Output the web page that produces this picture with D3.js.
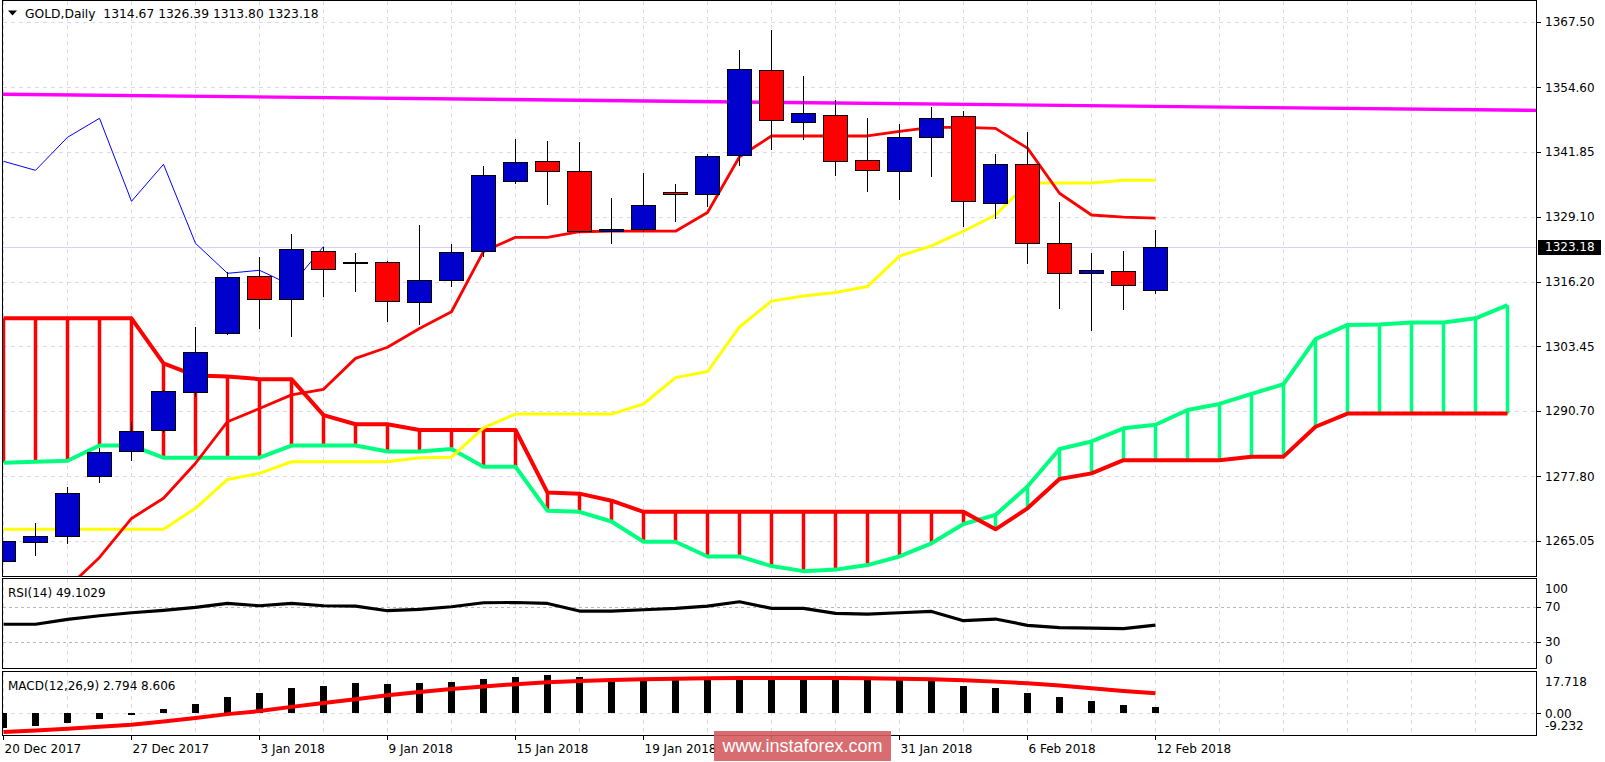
<!DOCTYPE html>
<html><head><meta charset="utf-8">
<script src="https://cdn.jsdelivr.net/npm/d3@7"></script>
<style>
html,body{margin:0;padding:0;background:#fff;}
svg{display:block;font-family:"DejaVu Sans",sans-serif;}
</style></head><body>
<svg id="chart" width="1605" height="762"></svg>
<script>
// ---------------- DATA ----------------
const dates = ["20 Dec 2017","21 Dec 2017","22 Dec 2017","26 Dec 2017","27 Dec 2017","28 Dec 2017","29 Dec 2017",
  "2 Jan 2018","3 Jan 2018","4 Jan 2018","5 Jan 2018","8 Jan 2018","9 Jan 2018","10 Jan 2018","11 Jan 2018","12 Jan 2018",
  "15 Jan 2018","16 Jan 2018","17 Jan 2018","18 Jan 2018","19 Jan 2018","22 Jan 2018","23 Jan 2018","24 Jan 2018","25 Jan 2018",
  "26 Jan 2018","29 Jan 2018","30 Jan 2018","31 Jan 2018","1 Feb 2018","2 Feb 2018","5 Feb 2018","6 Feb 2018","7 Feb 2018",
  "8 Feb 2018","9 Feb 2018","12 Feb 2018"];
const open  = [1261.04,1264.79,1265.98,1277.82,1282.76,1286.90,1294.40,1306.05,1317.30,1312.76,1322.35,1320.12,1320.06,1312.17,1316.51,1322.24,
  1335.97,1340.00,1338.03,1326.18,1326.50,1333.88,1333.49,1341.11,1357.96,1347.70,1349.08,1340.20,1338.03,1344.74,1348.88,1331.71,1339.41,
  1323.81,1317.89,1318.29,1314.67];
const high  = [1265.10,1268.60,1275.75,1283.35,1288.54,1294.86,1307.29,1318.21,1321.05,1325.59,1323.00,1321.84,1320.30,1327.43,1323.68,1339.07,
  1344.40,1344.03,1343.81,1332.75,1337.69,1335.52,1341.38,1361.97,1365.92,1356.84,1352.04,1348.55,1347.30,1350.66,1350.00,1341.44,1345.78,
  1331.97,1321.90,1322.29,1326.39];
const low   = [1261.00,1262.15,1264.40,1276.56,1280.90,1286.37,1293.40,1305.72,1306.96,1305.38,1313.27,1314.26,1308.34,1307.75,1315.25,1321.17,
  1335.58,1331.43,1325.79,1323.74,1325.99,1328.08,1331.04,1339.13,1342.23,1344.26,1337.16,1334.00,1332.42,1336.96,1327.09,1328.67,1319.79,
  1310.90,1306.56,1310.71,1313.80];
const close = [1264.99,1265.98,1274.47,1282.56,1286.70,1294.60,1302.30,1317.10,1312.76,1322.63,1318.88,1320.12,1312.36,1316.51,1322.04,1337.24,
  1339.80,1337.95,1326.18,1326.58,1331.32,1333.49,1340.99,1358.16,1348.09,1349.48,1340.00,1338.22,1344.74,1348.49,1332.11,1339.41,1323.81,
  1317.89,1318.49,1315.52,1323.18];

const tenkan = [1250.0,1252.0,1255.8,1261.8,1269.5,1273.5,1280.4,1288.6,1291.2,1293.9,1295.0,1301.1,1303.3,1307.0,1310.3,1322.2,
  1325.0,1325.0,1326.1,1326.2,1326.2,1326.2,1329.9,1340.9,1345.0,1345.0,1345.0,1345.0,1345.9,1346.7,1346.7,1346.5,1342.6,
  1333.7,1329.4,1329.0,1328.8];
const kijun = [1267.36,1267.36,1267.36,1267.36,1267.36,1267.36,1271.5,1277.2,1278.4,1280.7,1280.7,1280.7,1280.7,1281.5,1281.6,1287.4,
  1290.1,1290.1,1290.1,1290.1,1292.1,1297.3,1298.5,1307.3,1312.4,1313.4,1314.1,1315.3,1321.3,1323.3,1326.2,1329.4,1335.7,
  1335.7,1335.7,1336.25,1336.25];
const senkouA = [1280.5,1280.7,1280.9,1283.9,1283.9,1281.5,1281.5,1281.5,1281.5,1283.9,1283.9,1283.9,1282.7,1282.7,1283.2,1279.7,
  1279.7,1271.0,1270.8,1268.9,1264.9,1264.9,1262.0,1262.0,1260.1,1259.1,1259.4,1260.3,1262.0,1264.6,1268.4,1270.2,1275.8,
  1283.2,1284.7,1287.3,1288.0,1290.9,1292.1,1294.1,1296.0,1304.9,1307.7,1307.8,1308.2,1308.2,1309.0,1311.6];
const senkouB = [1309.0,1309.0,1309.0,1309.0,1309.0,1300.1,1297.7,1297.5,1297.0,1297.0,1289.9,1288.1,1288.1,1286.96,1286.96,1286.96,
  1286.96,1274.6,1274.4,1273.0,1270.8,1270.8,1270.8,1270.8,1270.8,1270.8,1270.8,1270.8,1270.8,1270.8,1270.8,1267.35,1271.5,
  1277.3,1278.4,1281.0,1281.0,1281.0,1281.0,1281.7,1281.7,1287.6,1290.2,1290.2,1290.2,1290.2,1290.2,1290.2];
const chikou = [1340.00,1338.22,1344.74,1348.49,1332.11,1339.41,1323.81,1317.89,1318.49,1315.52,1323.18];
const trendLine = [{bar:-0.03, price:1353.25},{bar:47.92, price:1350.05}];

const rsi = [50.0,50.0,55.5,59.6,63.0,65.7,69.0,73.5,70.9,73.5,70.9,70.5,65.3,66.8,69.8,74.3,74.6,73.5,64.9,64.9,66.4,67.9,70.5,75.4,
  67.9,67.9,62.3,61.5,63.0,64.5,54.0,55.9,48.8,46.1,45.7,45.0,49.1029];
const macdMain = [-6.2,-5.3,-4.2,-2.4,-0.8,1.8,3.9,7.1,8.8,11.0,11.7,13.0,12.5,13.0,13.4,14.7,15.5,16.3,15.5,14.7,14.7,14.6,14.6,14.6,
  14.6,14.6,14.6,14.6,14.3,14.1,11.7,10.8,8.7,7.0,5.3,3.6,2.794];
const macdSignal = [-7.9,-7.3,-6.6,-5.7,-4.8,-3.5,-2.0,-0.3,1.0,2.8,4.5,6.1,7.8,9.2,10.4,11.5,12.5,13.3,13.9,14.3,14.6,14.8,15.0,15.1,
  15.2,15.2,15.1,15.0,14.8,14.6,14.2,13.6,12.9,11.9,10.8,9.6,8.606];

const priceTicks = [1367.50,1354.60,1341.85,1329.10,1316.20,1303.45,1290.70,1277.80,1265.05];
const rsiLabels = [100,70,30,0];
const rsiLevels = [70,30];
const macdLabels = ["17.718","0.00","-9.232"];
const macdLabelValues = [17.718,0,-9.232];
const tickBars = [0,4,8,12,16,20,24,28,32,36];
const labelBars = [0,4,8,12,16,20,28,32,36]; // 25 Jan label is hidden under the watermark
const header = "GOLD,Daily  1314.67 1326.39 1313.80 1323.18";
const rsiTitle = "RSI(14) 49.1029";
const macdTitle = "MACD(12,26,9) 2.794 8.606";
const lastPrice = 1323.18;

// ---------------- LAYOUT ----------------
const svg = d3.select("#chart");
const L = 2.5, R = 1536.5;
const panels = {
  main: {top:0.5, bottom:576.5},
  rsi:  {top:578.5, bottom:668.5},
  macd: {top:671.5, bottom:735.5}
};
const x  = d3.scaleLinear().domain([0, 36]).range([3.5, 1155.5]);
const y  = d3.scaleLinear().domain([1265.05, 1367.50]).range([541, 22]);
const yR = d3.scaleLinear().domain([0, 100]).range([668.5, 580]);
const yM = d3.scaleLinear().domain([-9.232, 17.718]).range([735, 672]);

svg.append("rect").attr("width",1605).attr("height",762).attr("fill","#fff");

const defs = svg.append("defs");
Object.entries(panels).forEach(([k,p]) => {
  defs.append("clipPath").attr("id","clip-"+k).append("rect")
    .attr("x",L+0.5).attr("y",p.top+0.5).attr("width",R-L-1).attr("height",p.bottom-p.top-1);
});

const gridColor = "#d9d9ee";
const gridBars = d3.range(0, 48, 2);
Object.entries(panels).forEach(([k,p]) => {
  svg.append("g").attr("clip-path",`url(#clip-${k})`)
    .selectAll("line").data(gridBars).join("line")
    .attr("x1",d=>x(d)).attr("x2",d=>x(d)).attr("y1",p.top).attr("y2",p.bottom)
    .attr("stroke",gridColor).attr("stroke-dasharray","4,4").attr("shape-rendering","crispEdges");
});
svg.append("g").selectAll("line").data(priceTicks).join("line")
  .attr("x1",L).attr("x2",R).attr("y1",d=>Math.round(y(d))+0.5).attr("y2",d=>Math.round(y(d))+0.5)
  .attr("stroke",gridColor).attr("stroke-dasharray","4,4").attr("shape-rendering","crispEdges");
svg.append("g").selectAll("line").data(rsiLevels).join("line")
  .attr("x1",L).attr("x2",R).attr("y1",d=>Math.round(yR(d))+0.5).attr("y2",d=>Math.round(yR(d))+0.5)
  .attr("stroke","#b8b8b8").attr("stroke-dasharray","3,3").attr("shape-rendering","crispEdges");
svg.append("line").attr("x1",L).attr("x2",R).attr("y1",Math.round(yM(0))+0.5).attr("y2",Math.round(yM(0))+0.5)
  .attr("stroke",gridColor).attr("stroke-dasharray","4,4").attr("shape-rendering","crispEdges");

// ---------------- MAIN PANEL ----------------
const main = svg.append("g").attr("clip-path","url(#clip-main)");
main.append("line").attr("x1",L).attr("x2",R)
  .attr("y1",Math.round(y(lastPrice))+0.5).attr("y2",Math.round(y(lastPrice))+0.5)
  .attr("stroke","#d4d4f2").attr("shape-rendering","crispEdges");

const cloud = senkouA.map((a,i)=>({i, a, b: senkouB[i]}));
main.append("g").selectAll("line").data(cloud).join("line")
  .attr("x1",d=>x(d.i)).attr("x2",d=>x(d.i))
  .attr("y1",d=>y(d.a)).attr("y2",d=>y(d.b))
  .attr("stroke",d=> d.b > d.a ? "#ff0000" : "#00ff7f").attr("stroke-width",3.5);

const lineGen = (ys) => d3.line().x((d,i)=>x(i)).y(d=>ys(d));
main.append("path").datum(senkouA).attr("d",lineGen(y))
  .attr("fill","none").attr("stroke","#00ff7f").attr("stroke-width",4).attr("stroke-linejoin","round");
main.append("path").datum(senkouB).attr("d",lineGen(y))
  .attr("fill","none").attr("stroke","#ff0000").attr("stroke-width",4).attr("stroke-linejoin","round");

main.append("line")
  .attr("x1",x(trendLine[0].bar)).attr("y1",y(trendLine[0].price))
  .attr("x2",x(trendLine[1].bar)).attr("y2",y(trendLine[1].price))
  .attr("stroke","#ff00ff").attr("stroke-width",3.4);

main.append("path").datum(kijun).attr("d",lineGen(y))
  .attr("fill","none").attr("stroke","#ffff00").attr("stroke-width",3).attr("stroke-linejoin","round");
main.append("path").datum(tenkan).attr("d",lineGen(y))
  .attr("fill","none").attr("stroke","#ff0000").attr("stroke-width",2.8).attr("stroke-linejoin","round");
main.append("path").datum(chikou).attr("d",lineGen(y))
  .attr("fill","none").attr("stroke","#0000ff").attr("stroke-width",1);

const candles = close.map((c,i)=>({i, o:open[i], h:high[i], l:low[i], c}));
const cg = main.append("g").attr("shape-rendering","crispEdges");
cg.selectAll("line").data(candles).join("line")
  .attr("x1",d=>x(d.i)).attr("x2",d=>x(d.i))
  .attr("y1",d=>Math.round(y(d.h))).attr("y2",d=>Math.round(y(d.l)))
  .attr("stroke","#000").attr("stroke-width",1);
cg.selectAll("rect").data(candles).join("rect")
  .attr("x",d=>x(d.i)-12).attr("width",24)
  .attr("y",d=>Math.round(y(Math.max(d.o,d.c)))+0.5)
  .attr("height",d=>Math.max(1, Math.round(Math.abs(y(d.o)-y(d.c)))))
  .attr("fill",d=> d.c > d.o ? "#0000cc" : (d.c < d.o ? "#ff0000" : "#000"))
  .attr("stroke","#000").attr("stroke-width",1);

// ---------------- RSI ----------------
svg.append("g").attr("clip-path","url(#clip-rsi)")
  .append("path").datum(rsi).attr("d",lineGen(yR))
  .attr("fill","none").attr("stroke","#000").attr("stroke-width",3.2).attr("stroke-linejoin","round");

// ---------------- MACD ----------------
const mg = svg.append("g").attr("clip-path","url(#clip-macd)");
mg.selectAll("rect").data(macdMain).join("rect")
  .attr("x",(d,i)=>x(i)-3.5).attr("width",7)
  .attr("y",d=>yM(Math.max(0,d))).attr("height",d=>Math.abs(yM(d)-yM(0)))
  .attr("fill","#000").attr("shape-rendering","crispEdges");
mg.append("path").datum(macdSignal).attr("d",lineGen(yM))
  .attr("fill","none").attr("stroke","#ff0000").attr("stroke-width",4).attr("stroke-linejoin","round");

// ---------------- FRAMES ----------------
Object.values(panels).forEach(p=>{
  svg.append("rect").attr("x",L).attr("y",p.top).attr("width",R-L).attr("height",p.bottom-p.top)
    .attr("fill","none").attr("stroke","#000").attr("shape-rendering","crispEdges");
});

// ---------------- AXES TEXT ----------------
const fs = "12px";
svg.append("g").selectAll("line").data(priceTicks).join("line")
  .attr("x1",R).attr("x2",R+4).attr("y1",d=>Math.round(y(d))+0.5).attr("y2",d=>Math.round(y(d))+0.5)
  .attr("stroke","#000").attr("shape-rendering","crispEdges");
svg.append("g").selectAll("text").data(priceTicks).join("text")
  .attr("x",1545).attr("y",d=>y(d)+4.3).attr("font-size",fs).attr("fill","#000")
  .text(d=>d.toFixed(2));
svg.append("rect").attr("x",1538).attr("y",Math.round(y(lastPrice))-7).attr("width",63).attr("height",15).attr("fill","#000");
svg.append("text").attr("x",1545).attr("y",y(lastPrice)+4.5).attr("font-size",fs).attr("fill","#fff").text(lastPrice.toFixed(2));

const rsiLabelY = d => d===100 ? yR(100)+9 : (d===0 ? yR(0)-9 : yR(d));
svg.append("g").selectAll("text").data(rsiLabels).join("text")
  .attr("x",1545).attr("y",d=>rsiLabelY(d)+4.3).attr("font-size",fs).attr("fill","#000").text(d=>d);
svg.append("g").selectAll("line").data(rsiLevels).join("line")
  .attr("x1",R).attr("x2",R+4).attr("y1",d=>Math.round(yR(d))+0.5).attr("y2",d=>Math.round(yR(d))+0.5)
  .attr("stroke","#000").attr("shape-rendering","crispEdges");
const macdLabelY = v => v===17.718 ? yM(v)+10 : (v===-9.232 ? yM(v)-9 : yM(v));
svg.append("g").selectAll("text").data(macdLabelValues).join("text")
  .attr("x",1545).attr("y",d=>macdLabelY(d)+4.3).attr("font-size",fs).attr("fill","#000")
  .text((d,i)=>macdLabels[i]);
svg.append("line").attr("x1",R).attr("x2",R+4).attr("y1",Math.round(yM(0))+0.5).attr("y2",Math.round(yM(0))+0.5)
  .attr("stroke","#000").attr("shape-rendering","crispEdges");

svg.append("g").selectAll("line").data(tickBars).join("line")
  .attr("x1",d=>x(d)).attr("x2",d=>x(d)).attr("y1",735.5).attr("y2",739.5)
  .attr("stroke","#000").attr("shape-rendering","crispEdges");
svg.append("g").selectAll("text").data(labelBars).join("text")
  .attr("x",d=>x(d)+1).attr("y",752.5).attr("font-size",fs).attr("fill","#000")
  .text(d=>dates[d]);

svg.append("path").attr("d","M8,10.5 L17,10.5 L12.5,15.5 Z").attr("fill","#000");
svg.append("text").attr("x",25).attr("y",18).attr("font-size","12.3px").attr("fill","#000")
  .style("white-space","pre").text(header);
svg.append("text").attr("x",8).attr("y",596.5).attr("font-size",fs).attr("fill","#000").text(rsiTitle);
svg.append("text").attr("x",8).attr("y",689.5).attr("font-size",fs).attr("fill","#000").text(macdTitle);

// watermark
svg.append("rect").attr("x",714).attr("y",731).attr("width",177).attr("height",30)
  .attr("fill","rgb(212,92,95)").attr("opacity",0.9);
svg.append("text").attr("x",802.5).attr("y",752).attr("text-anchor","middle")
  .attr("font-family","'Liberation Sans',Arial,sans-serif").attr("font-size","18px").attr("fill","#fff")
  .text("www.instaforex.com");
</script>
</body></html>
